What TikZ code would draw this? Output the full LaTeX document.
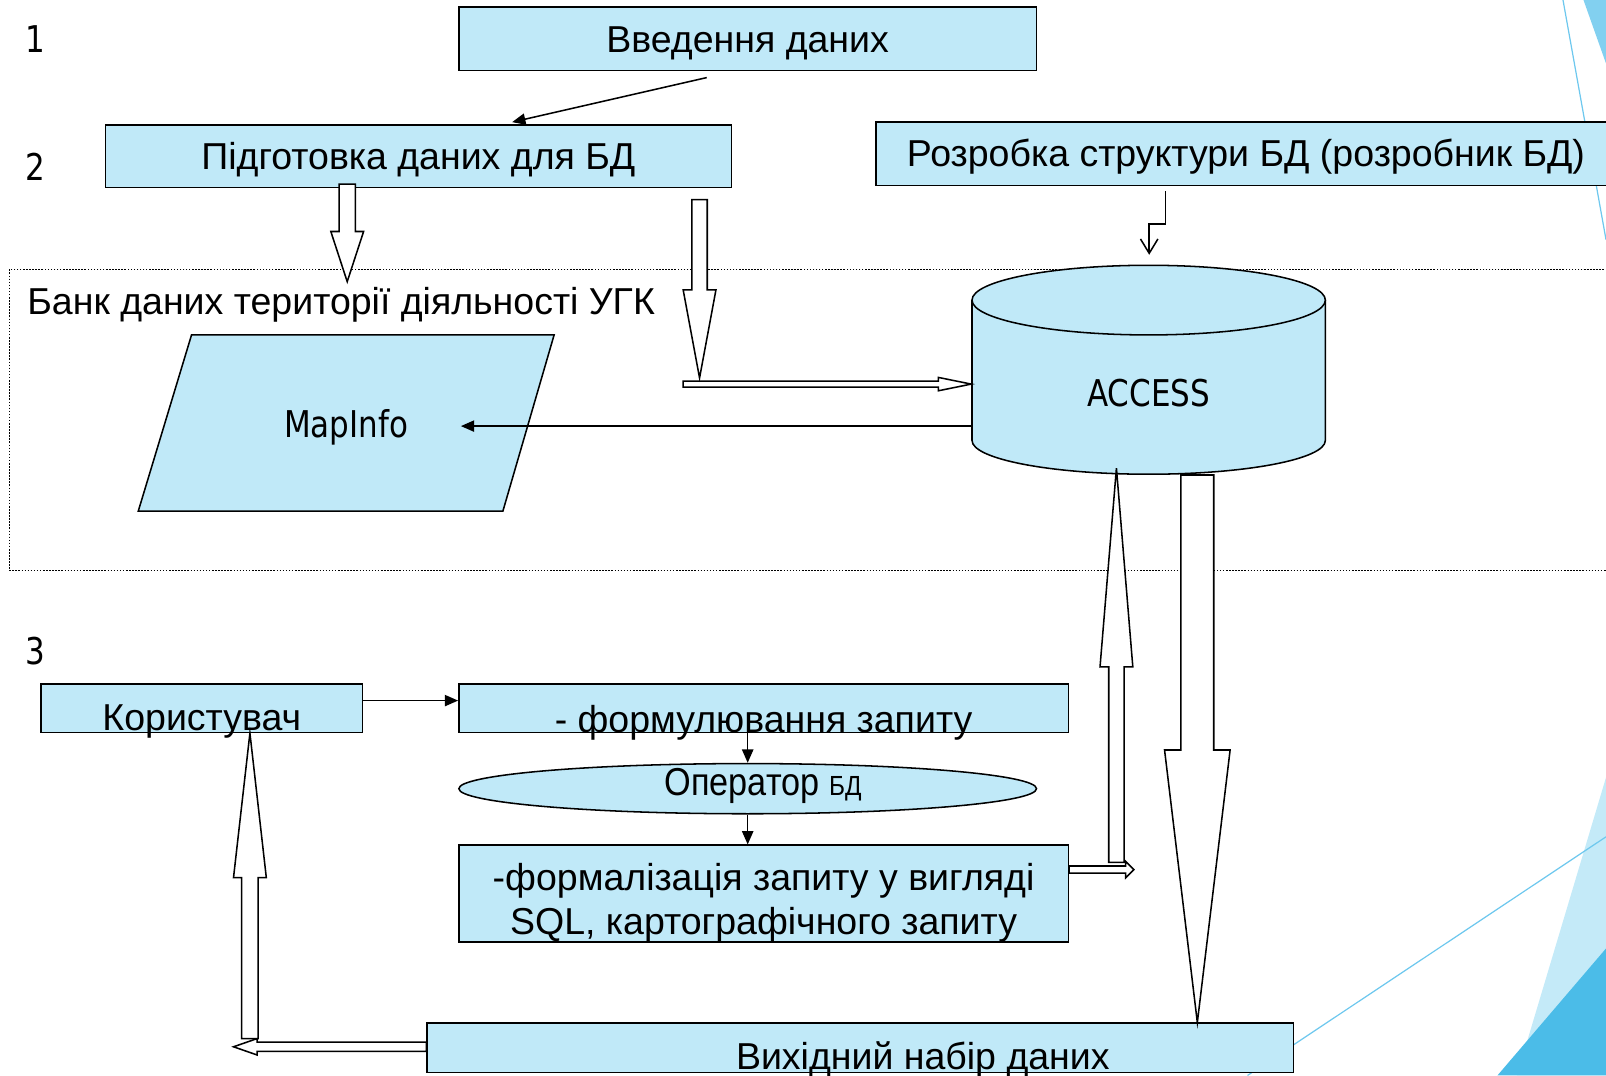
\documentclass[tikz,border=0pt]{standalone}
\usepackage{fontspec}
\setmainfont{Liberation Sans}
\newfontfamily\tahomafont[FakeStretch=0.84]{DejaVu Sans}
\newfontfamily\narrowfont[FakeStretch=0.88]{Liberation Sans}
\usetikzlibrary{shapes.geometric, arrows.meta, calc}
\definecolor{boxblue}{RGB}{192,233,248}
\definecolor{decoline}{RGB}{110,200,238}
\definecolor{decopale}{RGB}{196,234,248}
\definecolor{decomid}{RGB}{130,208,240}
\definecolor{decodark}{RGB}{75,188,232}

% hollow block arrow: from, to, shaft half width, head half width, head length
\newcommand\blockarrow[5]{%
  \path ($(#2)!#5!(#1)$) coordinate (bh);
  \draw[hollow] ($(#1)!#3!90:(#2)$) -- ($(bh)!#3!90:(#2)$) -- ($(bh)!#4!90:(#2)$) -- (#2)
    -- ($(bh)!#4!-90:(#2)$) -- ($(bh)!#3!-90:(#2)$) -- ($(#1)!#3!-90:(#2)$) -- cycle;
}

\begin{document}
\begin{tikzpicture}[x=1pt, y=-1pt, line width=1.5pt,
  box/.style={draw, fill=boxblue, inner sep=0pt, font=\fontsize{36.6}{43}\selectfont},
  onebox/.style={box, text height=26pt, text depth=0pt},
  oval/.style={ellipse, draw, fill=boxblue, inner sep=0pt, text height=26pt, text depth=0pt, font=\narrowfont\fontsize{38}{43}\selectfont},
  lbl/.style={inner sep=0pt, font=\fontsize{36.6}{43}\selectfont},
  tahoma/.style={inner sep=0pt, font=\tahomafont\fontsize{36}{40}\selectfont},
  hollow/.style={draw, fill=white, line width=1.5pt},
  conn/.style={-{Triangle[length=13pt,width=11pt]}}
]
  \useasboundingbox (0,0) rectangle (1568,1050);

  % background corners
  \fill[decomid] (1546,0) -- (1568,0) -- (1568,62) -- cycle;
  \draw[decoline, line width=1.2pt] (1526,0) -- (1568,234);
  \fill[decopale] (1568,759) -- (1481,1050) -- (1568,1050) -- cycle;
  \draw[decoline, line width=1.2pt] (1568,817) -- (1218,1050);
  \fill[decodark] (1462,1050) -- (1568,926) -- (1568,1050) -- cycle;

  % levels
  \node[tahoma] (n1) at (35,38) {1};
  \node[tahoma] (n2) at (35,163) {2};
  \node[tahoma] (n3) at (35,636) {3};

  % upper boxes
  \node[onebox, minimum width=564pt, minimum height=62pt] (intro) at (730,38) {Введення даних};
  \node[onebox, minimum width=611pt, minimum height=61pt] (prep) at (408.5,152.5) {Підготовка даних для БД};
  \node[onebox, minimum width=723pt, minimum height=62pt] (design) at (1216.5,150) {Розробка структури БД (розробник БД)};

  % data bank
  \draw[dash pattern=on 1.5pt off 1.5pt, line width=1.4pt] (9,263) rectangle (1590,557);
  \node[lbl, anchor=base west] (bank) at (26,307) {Банк даних території діяльності УГК};
  \draw[fill=boxblue] (187,327) -- (541,327) -- (491,499) -- (135,499) -- cycle;
  \node[tahoma] (mapinfo) at (338,417) {MapInfo};
  \path[fill=boxblue, draw] (949,293) -- (949,430) .. controls (949,448.2) and (1026.2,463) .. (1121.5,463)
    .. controls (1216.8,463) and (1294,448.2) .. (1294,430) -- (1294,293);
  \draw[fill=boxblue] (1121.5,293) ellipse [x radius=172.5pt, y radius=34pt];
  \node[tahoma, minimum width=345pt, minimum height=158pt] (access) at (1121.5,384) {ACCESS};

  % upper arrows
  \draw[conn] ([xshift=-40pt,yshift=-6pt]intro.south) -- ([xshift=91.5pt,yshift=2pt]prep.north);
  \coordinate (a1) at ([xshift=-69.5pt,yshift=4pt]prep.south);
  \coordinate (a2) at (339,275);
  \blockarrow{a1}{a2}{8pt}{16pt}{49pt}
  \coordinate (c1) at (667,375);
  \coordinate (c2) at ([yshift=9pt]access.west);
  \blockarrow{c1}{c2}{3pt}{6.5pt}{32pt}
  \coordinate (b1) at (683,195);
  \coordinate (b2) at (683,369);
  \blockarrow{b1}{b2}{7.5pt}{16pt}{86pt}
  \draw[-{Straight Barb[length=14pt,width=17pt]}] ([xshift=-78.5pt,yshift=-5pt]design.south) -- ++(0,32) -- ++(-16,0) -- ++(0,30);
  \coordinate (mapin) at (450,416);
  \draw[conn] ([yshift=-32pt]access.west) -- (mapin);

  % query level
  \node[onebox, minimum width=314pt, minimum height=47pt] (user) at (197,691.5) {\raisebox{-8.5pt}{Користувач}};
  \node[onebox, minimum width=595pt, minimum height=47pt] (form) at (745.5,691.5) {\raisebox{-10.5pt}{- формулювання запиту}};
  \node[oval, minimum width=564pt, minimum height=49pt] (oper) at (730,770) {\hspace*{30pt}\raisebox{6pt}{Оператор {\fontsize{27}{30}\selectfont БД}}};
  \node[box, align=center, minimum width=595pt, minimum height=93pt] (formal) at (745.5,872.5) {\rule{0pt}{44pt}-формалізація запиту у вигляді\\SQL, картографічного запиту};
  \node[onebox, minimum width=846pt, minimum height=48pt] (output) at (840,1023) {\hspace*{122pt}\raisebox{-8pt}{Вихідний набір даних}};

  \draw[conn] ([yshift=7.5pt]user.east) -- ([yshift=7.5pt]form.west);
  \draw[conn] (oper.north |- form.south) -- (oper.north);
  \draw[conn] (oper.south) -- (oper.south |- formal.north);

  \coordinate (d1) at ([yshift=23.5pt]formal.east);
  \coordinate (d2) at (1107,849);
  \blockarrow{d1}{d2}{3.5pt}{8pt}{8pt}
  \coordinate (e1) at (1090,842);
  \coordinate (e2) at (1090,457);
  \blockarrow{e1}{e2}{7.5pt}{16pt}{194pt}
  \coordinate (f1) at ([xshift=47.5pt]access.south);
  \coordinate (f2) at (f1 |- output.north);
  \blockarrow{f1}{f2}{16pt}{32pt}{266pt}
  \coordinate (g1) at ([yshift=1pt]output.west);
  \coordinate (g2) at (228,1022);
  \blockarrow{g1}{g2}{4.5pt}{8pt}{23pt}
  \coordinate (h1) at (244,1014);
  \coordinate (h2) at (h1 |- user.south);
  \blockarrow{h1}{h2}{8pt}{16pt}{141pt}
\end{tikzpicture}
\end{document}
